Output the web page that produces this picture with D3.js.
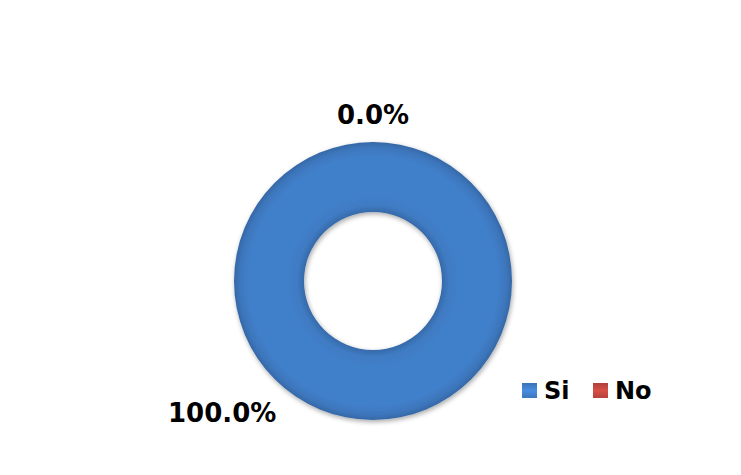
<!DOCTYPE html>
<html>
<head>
<meta charset="utf-8">
<script src="https://cdn.jsdelivr.net/npm/d3@7/dist/d3.min.js"></script>
<style>
  html, body { margin: 0; padding: 0; background: #ffffff; }
  svg { display: block; }
  text { font-family: "DejaVu Sans", sans-serif; font-weight: bold; fill: #000; }
</style>
</head>
<body>
<svg id="chart" width="741" height="475"></svg>
<script>
// Survey answers and their shares (percent)
const categories = ["Si", "No"];
const values = [100, 0];
const colors = ["#417fca", "#c2473f"];

const width = 741, height = 475;
const cx = 373, cy = 281;
const outerR = 139, innerR = 69;

const svg = d3.select("#chart");
const defs = svg.append("defs");

// Bevel shading across the ring width
function ringGradient(id, base) {
  const c = d3.color(base);
  const g = defs.append("radialGradient")
    .attr("id", id)
    .attr("gradientUnits", "userSpaceOnUse")
    .attr("cx", 0).attr("cy", 0).attr("r", outerR);
  const f = innerR / outerR;
  g.append("stop").attr("offset", f).attr("stop-color", c.darker(0.5));
  g.append("stop").attr("offset", f + 0.05).attr("stop-color", c.darker(0.1));
  g.append("stop").attr("offset", f + 0.12).attr("stop-color", c);
  g.append("stop").attr("offset", 0.9).attr("stop-color", c);
  g.append("stop").attr("offset", 0.96).attr("stop-color", c.darker(0.2));
  g.append("stop").attr("offset", 1).attr("stop-color", c.darker(0.55));
}
colors.forEach((c, i) => ringGradient("ring" + i, c));

// Legend marker gradient
colors.forEach((c, i) => {
  const g = defs.append("linearGradient").attr("id", "key" + i)
    .attr("x1", 0).attr("y1", 0).attr("x2", 0).attr("y2", 1);
  g.append("stop").attr("offset", 0).attr("stop-color", d3.color(c).darker(0.3));
  g.append("stop").attr("offset", 0.5).attr("stop-color", d3.color(c).brighter(0.3));
  g.append("stop").attr("offset", 1).attr("stop-color", d3.color(c).darker(0.2));
});

const shadow = defs.append("filter").attr("id", "shadow")
  .attr("x", "-20%").attr("y", "-20%").attr("width", "140%").attr("height", "140%");
shadow.append("feGaussianBlur").attr("in", "SourceAlpha").attr("stdDeviation", 2.5).attr("result", "b");
shadow.append("feOffset").attr("in", "b").attr("dx", 1).attr("dy", 2).attr("result", "o");
shadow.append("feComponentTransfer").attr("in", "o").attr("result", "s")
  .append("feFuncA").attr("type", "linear").attr("slope", 0.35);
const merge = shadow.append("feMerge");
merge.append("feMergeNode").attr("in", "s");
merge.append("feMergeNode").attr("in", "SourceGraphic");

const pie = d3.pie().sort(null).value(d => d.value);
const data = categories.map((c, i) => ({ name: c, value: values[i], i }));
const arcs = pie(data);

const arc = d3.arc().innerRadius(innerR).outerRadius(outerR);

const g = svg.append("g").attr("transform", `translate(${cx},${cy})`);

g.selectAll("path.slice")
  .data(arcs.filter(d => d.endAngle - d.startAngle > 0))
  .join("path")
  .attr("class", "slice")
  .attr("d", arc)
  .attr("fill", d => `url(#ring${d.data.i})`)
  .attr("filter", "url(#shadow)");

// Percent labels placed outside the ring
const total = d3.sum(values);
const fmt = v => (v / total * 100).toFixed(1) + "%";
function labelPos(d) {
  let a, r;
  if (d.endAngle - d.startAngle >= 2 * Math.PI - 1e-6) {
    a = Math.PI * 1.272; r = 200;      // full ring: label sits to the lower left
  } else {
    a = (d.startAngle + d.endAngle) / 2; r = 166;
  }
  return [Math.sin(a) * r, -Math.cos(a) * r];
}
g.selectAll("text.pct")
  .data(arcs)
  .join("text")
  .attr("class", "pct")
  .attr("x", d => labelPos(d)[0])
  .attr("y", d => labelPos(d)[1])
  .attr("dy", "0.36em")
  .attr("text-anchor", "middle")
  .attr("font-size", 26)
  .text(d => fmt(d.data.value));

// Legend
const legend = svg.append("g").attr("transform", "translate(522,383)");
const item = legend.selectAll("g")
  .data(data)
  .join("g")
  .attr("transform", d => `translate(${d.i * 71},0)`);
item.append("rect")
  .attr("width", 15).attr("height", 15)
  .attr("fill", d => `url(#key${d.i})`);
item.append("text")
  .attr("x", 22).attr("y", 16)
  .attr("font-size", 24)
  .text(d => d.name);
</script>
</body>
</html>
